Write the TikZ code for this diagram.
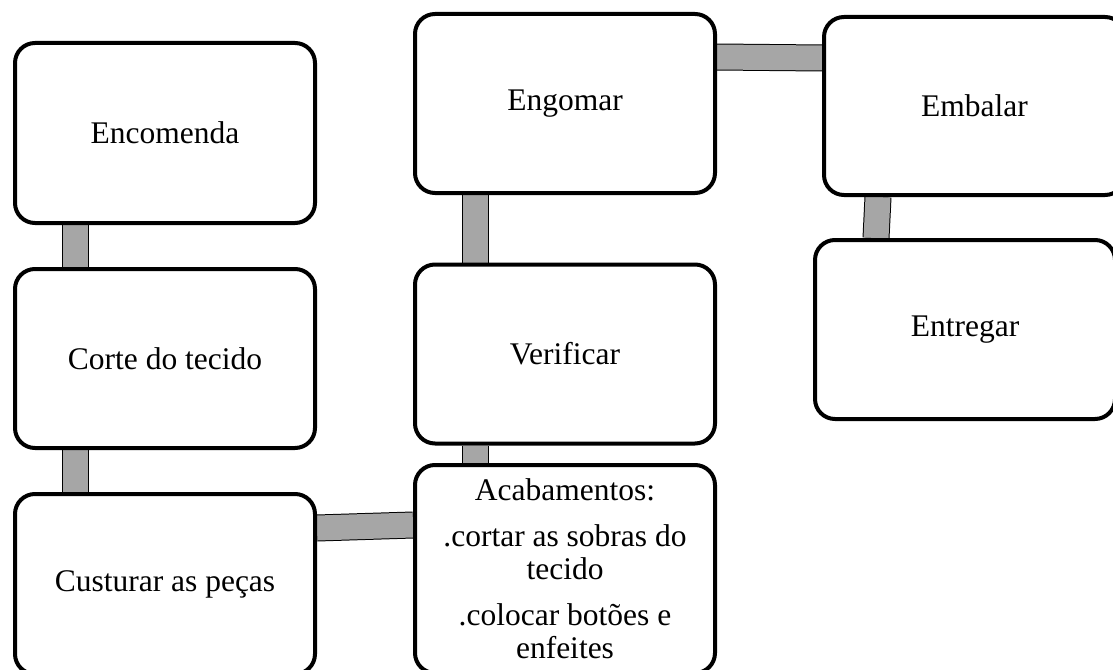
\documentclass[tikz,border=0pt]{standalone}
\usepackage{fontspec}
\setmainfont{Liberation Serif}
\usetikzlibrary{backgrounds,calc}
\definecolor{conngray}{RGB}{166,166,166}
\tikzset{
  stepbox/.style={draw=black, line width=4pt, rounded corners=20pt, fill=white,
    minimum width=300pt, align=center, inner sep=0pt,
    font=\fontsize{31.5}{33}\selectfont},
  conn/.style={draw=black, line width=1pt, double=conngray, double distance=25pt}
}
\begin{document}
\begin{tikzpicture}[x=1pt,y=-1pt]
\clip (0,0) rectangle (1113,669);
\useasboundingbox (0,0) rectangle (1113,669);
\node[stepbox, minimum height=180pt] (enc) at (165,133) {Encomenda};
\node[stepbox, minimum height=179pt] (corte) at (165,358.5) {Corte do tecido};
\node[stepbox, minimum height=180pt] (cust) at (165,584) {Custurar as peças};
\node[stepbox, minimum height=208pt] (acab) at (565,569) {Acabamentos:\\[13pt].cortar as sobras do\\tecido\\[13pt].colocar botões e\\enfeites};
\node[stepbox, minimum height=179pt] (verif) at (565,354) {Verificar};
\node[stepbox, minimum height=179pt] (eng) at (565,103.5) {Engomar};
\node[stepbox, minimum width=301pt, minimum height=178pt] (emb) at (974.5,106) {Embalar};
\node[stepbox, minimum height=179pt] (entr) at (965,329.5) {Entregar};
\begin{scope}[on background layer]
\draw[conn] ([xshift=62.5pt]enc.south west) -- ([xshift=62.5pt]corte.north west);
\draw[conn] ([xshift=62.5pt]corte.south west) -- ([xshift=62.5pt]cust.north west);
\draw[conn] ([yshift=-36pt]cust.north east) -- ([yshift=-62pt]acab.north west);
\draw[conn] ([xshift=62.5pt]acab.north west) -- ([xshift=62.5pt]verif.south west);
\draw[conn] ([xshift=62.5pt]verif.north west) -- ([xshift=62.5pt]eng.south west);
\draw[conn] ([yshift=-45pt]eng.north east) -- ([yshift=-43pt]emb.north west);
\draw[conn] ([xshift=56pt]emb.south west) -- ([xshift=63pt]entr.north west);
\end{scope}
\end{tikzpicture}
\end{document}
